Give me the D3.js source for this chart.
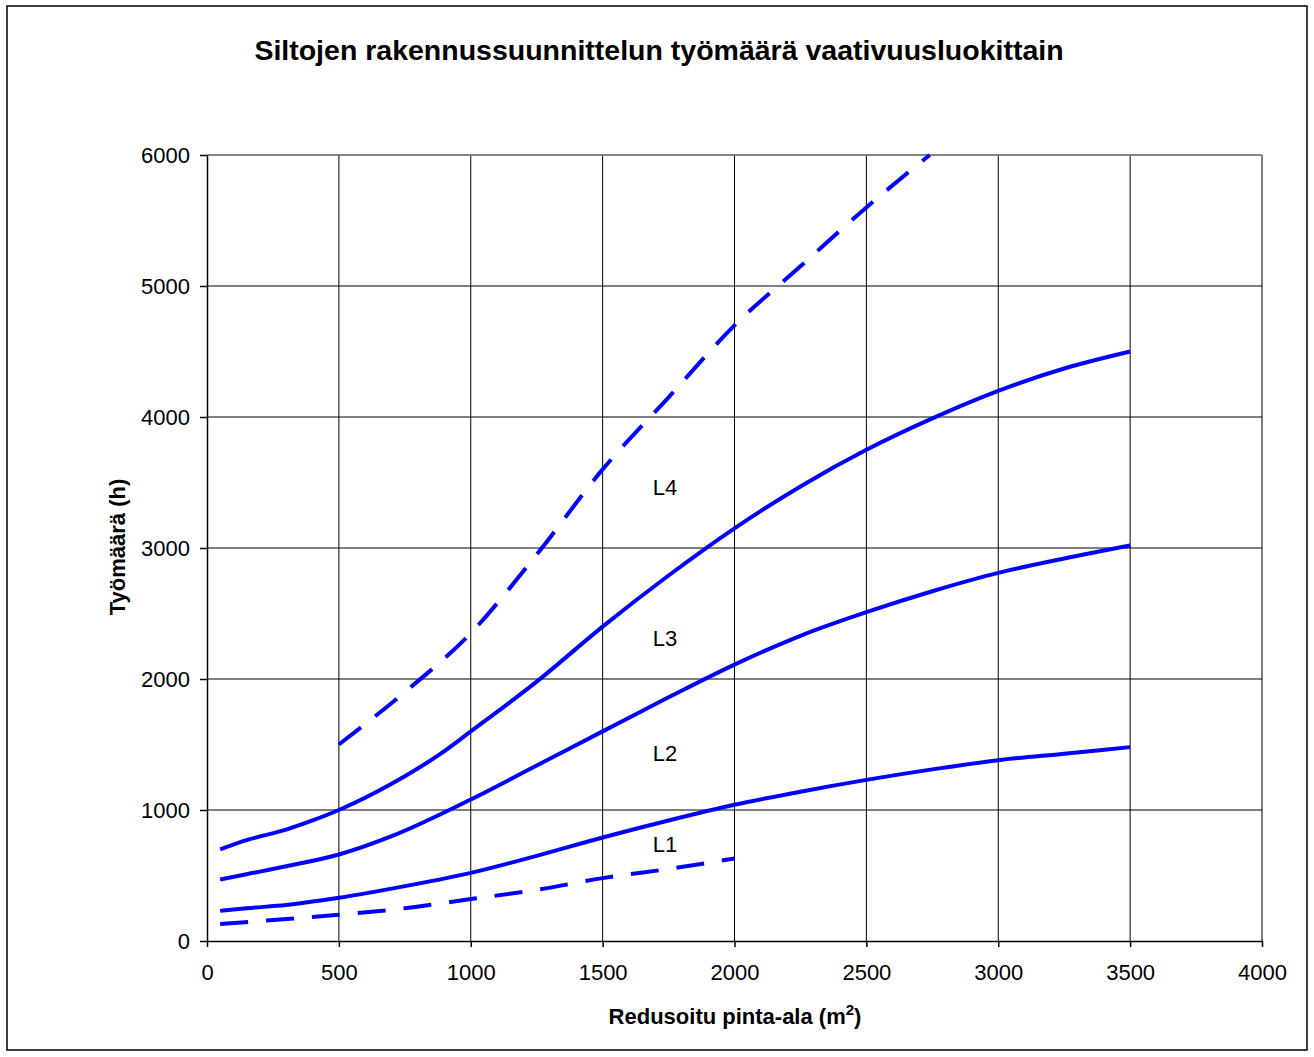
<!DOCTYPE html>
<html><head><meta charset="utf-8">
<script src="https://cdn.jsdelivr.net/npm/d3@7"></script>
<style>body{margin:0;background:#fff;} svg{display:block;font-family:Arial,"Liberation Sans",sans-serif;}</style>
</head><body>
<svg id="c" width="1314" height="1057"></svg>
<script>
const xTicks = [0,500,1000,1500,2000,2500,3000,3500,4000];
const yTicks = [0,1000,2000,3000,4000,5000,6000];

const l1Low = [[50,130],[250,160],[500,200],[750,250],[1000,320],[1250,390],[1500,480],[1750,550],[2000,630]];
const l1 = [[50,230],[150,250],[300,275],[500,330],[700,400],[1000,520],[1250,650],[1500,790],[1750,920],[2000,1040],[2250,1140],[2500,1230],[2750,1310],[3000,1380],[3250,1430],[3500,1480]];
const l2 = [[50,470],[150,510],[300,570],[500,660],[700,800],[1000,1080],[1250,1340],[1500,1600],[1750,1860],[2000,2110],[2250,2330],[2500,2510],[2750,2670],[3000,2810],[3250,2920],[3500,3020]];
const l3 = [[50,700],[150,770],[300,850],[400,920],[500,1000],[700,1200],[900,1450],[1000,1600],[1250,1980],[1500,2400],[1750,2790],[2000,3150],[2250,3470],[2500,3750],[2750,3990],[3000,4200],[3250,4370],[3500,4500]];
const l4Low = [[500,1500],[750,1900],[1000,2350],[1250,2950],[1500,3600],[1750,4150],[2000,4700],[2250,5150],[2500,5600],[2740,6000]];

const labels = ["L4","L3","L2","L1"];
const labelX = [1690,1690,1690,1690];
const labelY = [3450,2300,1420,720];

const FONT = "Arial,'Liberation Sans',sans-serif";
const svg = d3.select("#c");
const m = {l:207, r:1262, t:155, b:941};
const x = d3.scaleLinear().domain([0,4000]).range([m.l,m.r]);
const y = d3.scaleLinear().domain([0,6000]).range([m.b,m.t]);

svg.append("rect").attr("x",7).attr("y",6).attr("width",1300).attr("height",1044)
  .attr("fill","#fff").attr("stroke","#000").attr("stroke-width",1.5);

// grid
svg.append("g").selectAll("line").data(xTicks.slice(1)).join("line")
  .attr("x1",d=>x(d)).attr("x2",d=>x(d)).attr("y1",m.t).attr("y2",m.b)
  .attr("stroke","#000").attr("stroke-width",1);
svg.append("g").selectAll("line").data(yTicks.slice(1)).join("line")
  .attr("x1",m.l).attr("x2",m.r).attr("y1",d=>y(d)).attr("y2",d=>y(d))
  .attr("stroke","#000").attr("stroke-width",1);
svg.append("line").attr("x1",m.l).attr("x2",m.r).attr("y1",m.t).attr("y2",m.t).attr("stroke","#888").attr("stroke-width",1.5);

const xa = svg.append("g").attr("transform",`translate(0,${m.b})`)
  .call(d3.axisBottom(x).tickValues(xTicks).tickFormat(d3.format("d")).tickSize(6).tickPadding(17).tickSizeOuter(0));
const ya = svg.append("g").attr("transform",`translate(${m.l},0)`)
  .call(d3.axisLeft(y).tickValues(yTicks).tickFormat(d3.format("d")).tickSize(7).tickPadding(10).tickSizeOuter(0));
[xa,ya].forEach(a=>{
  a.attr("font-size",22).attr("font-family",FONT);
  a.selectAll("path,line").attr("stroke","#000").attr("stroke-width",1.5);
  a.selectAll("text").attr("fill","#000");
});

const line = d3.line().x(d=>x(d[0])).y(d=>y(d[1])).curve(d3.curveMonotoneX);
const g = svg.append("g").attr("fill","none").attr("stroke","#0000ff").attr("stroke-width",4).attr("stroke-linecap","butt");
[l1,l2,l3].forEach(s=>g.append("path").attr("d",line(s)).attr("stroke-linejoin","round"));
[l1Low,l4Low].forEach(s=>g.append("path").attr("d",line(s)).attr("stroke-dasharray","28,18"));

svg.append("g").selectAll("text").data(labels).join("text")
  .attr("x",(d,i)=>x(labelX[i])).attr("y",(d,i)=>y(labelY[i]))
  .attr("dominant-baseline","middle").attr("font-size",22).text(d=>d);

svg.append("text").attr("x",659).attr("y",60).attr("text-anchor","middle")
  .attr("font-size",28.5).attr("font-weight","bold").text("Siltojen rakennussuunnittelun työmäärä vaativuusluokittain");
svg.append("text").attr("transform","translate(125,547) rotate(-90)").attr("text-anchor","middle")
  .attr("font-size",22).attr("font-weight","bold").text("Työmäärä (h)");
const xt = svg.append("text").attr("x",735).attr("y",1024).attr("text-anchor","middle")
  .attr("font-size",22).attr("font-weight","bold");
xt.append("tspan").text("Redusoitu pinta-ala (m");
xt.append("tspan").attr("font-size",15).attr("dy",-9).text("2");
xt.append("tspan").attr("dy",9).text(")");
</script>
</body></html>
